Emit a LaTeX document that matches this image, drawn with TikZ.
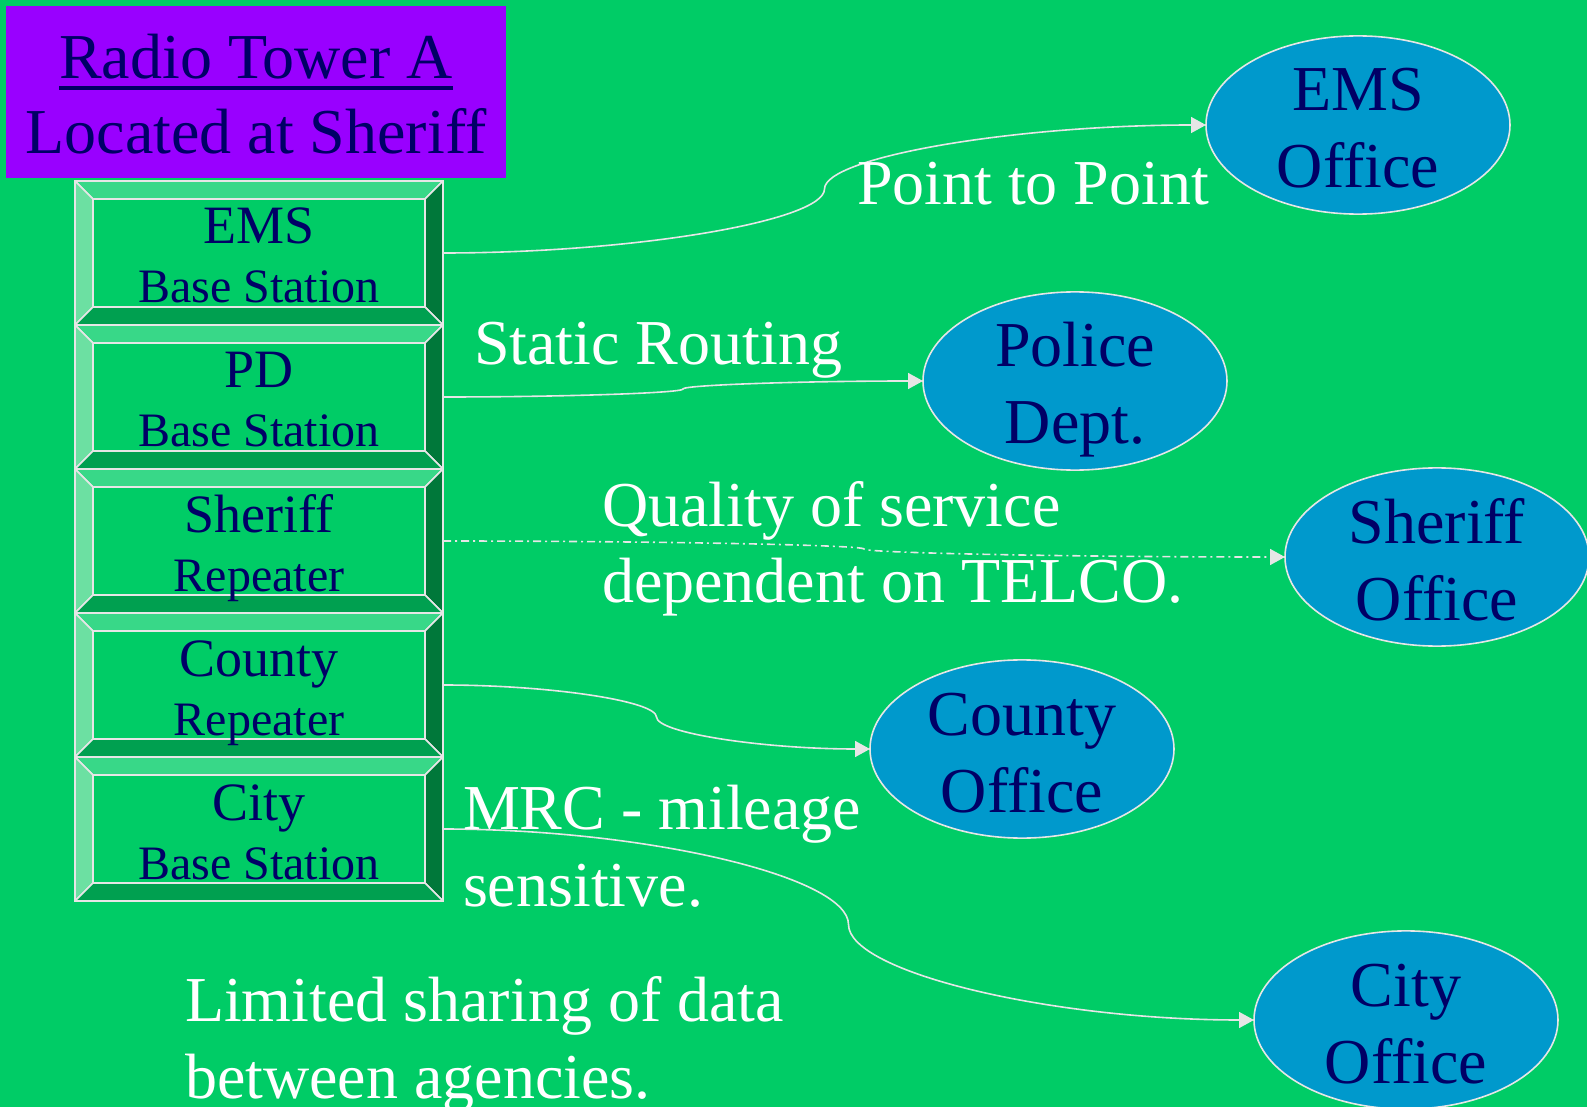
\documentclass[tikz,border=0pt]{standalone}
\usepackage{fontspec}
\setmainfont{Liberation Serif}
\usetikzlibrary{positioning, shapes.geometric, arrows.meta, calc}
\definecolor{Slide_Green}{HTML}{00CC66}
\definecolor{Slide_Purple}{HTML}{9900FF}
\definecolor{Slide_Blue}{HTML}{0099CC}
\definecolor{Slide_Navy}{HTML}{000066}
\definecolor{Slide_Grey}{HTML}{E6E6E6}
\definecolor{Bevel_Top}{HTML}{38D888}
\definecolor{Bevel_Left}{HTML}{6CE0A2}
\definecolor{Bevel_Right}{HTML}{00783A}
\definecolor{Bevel_Bottom}{HTML}{00A050}
% heavier underline than \underline gives
\newcommand\towerline[1]{\setbox0\hbox{#1}\rlap{\rule[-5.5pt]{\wd0}{1.8pt}}\box0}

\begin{document}
\begin{tikzpicture}[
  x=0.5pt, y=-0.5pt,
  every node/.style={inner sep=0pt, outer sep=0pt},
  bevel/.style={draw=Slide_Grey, line width=0.8pt},
  station/.style={draw=Slide_Grey, line width=0.8pt, minimum width=184pt, minimum height=72pt,
    text=Slide_Navy, align=center, font=\fontsize{24}{29.5}\selectfont, text height=50pt, text depth=0pt,
    path picture={
      \path (path picture bounding box.north west) coordinate (bnw)
            (path picture bounding box.north east) coordinate (bne)
            (path picture bounding box.south west) coordinate (bsw)
            (path picture bounding box.south east) coordinate (bse);
      \path[bevel, fill=Bevel_Top] (bnw) -- (bne) -- ([shift={(-9pt,-9pt)}]bne) -- ([shift={(9pt,-9pt)}]bnw) -- cycle;
      \path[bevel, fill=Bevel_Left] (bnw) -- ([shift={(9pt,-9pt)}]bnw) -- ([shift={(9pt,9pt)}]bsw) -- (bsw) -- cycle;
      \path[bevel, fill=Bevel_Right] (bne) -- (bse) -- ([shift={(-9pt,9pt)}]bse) -- ([shift={(-9pt,-9pt)}]bne) -- cycle;
      \path[bevel, fill=Bevel_Bottom] (bsw) -- (bse) -- ([shift={(-9pt,9pt)}]bse) -- ([shift={(9pt,9pt)}]bsw) -- cycle;
    }},
  office/.style={ellipse, draw=Slide_Grey, line width=0.8pt, fill=Slide_Blue, text=Slide_Navy,
    minimum width=152pt, minimum height=88pt, align=center, font=\fontsize{32}{38.5}\selectfont,
    text height=63pt, text depth=0pt},
  lbl/.style={text=white, align=left, anchor=south west, font=\fontsize{32}{38.5}\selectfont, text depth=0pt},
  arr/.style={-{Triangle[length=7.5pt, width=8pt]}, line width=0.8pt, Slide_Grey},
  qos/.style={arr, dash pattern=on 4pt off 2pt on 1pt off 2pt},
  sbend/.style={to path={let \p1=(\tikztostart), \p2=(\tikztotarget) in
    .. controls ({0.75*\x1+0.25*\x2},\y1) and ({0.5*\x1+0.5*\x2},{0.75*\y1+0.25*\y2})
    .. ({0.5*\x1+0.5*\x2},{0.5*\y1+0.5*\y2})
    .. controls ({0.5*\x1+0.5*\x2},{0.25*\y1+0.75*\y2}) and ({0.25*\x1+0.75*\x2},\y2)
    .. (\tikztotarget)}}
]
  \fill[Slide_Green] (0,0) rectangle (1587,1107);
  \useasboundingbox (0,0) rectangle (1587,1107);

  % Tower heading
  \node[fill=Slide_Purple, minimum width=250pt, minimum height=86pt, text=Slide_Navy, align=center,
        font=\fontsize{32}{37.5}\selectfont, text height=62pt, text depth=0pt] (tower) at (256,92)
        {\towerline{Radio Tower A}\\Located at Sheriff};

  % Left: stacked base stations
  \node[station] (ems) at (259,253) {{\fontsize{27}{29.5}\selectfont EMS}\\Base Station};
  \node[station, below=0pt of ems] (pd) {{\fontsize{27}{29.5}\selectfont PD}\\Base Station};
  \node[station, below=0pt of pd] (sheriff) {{\fontsize{27}{29.5}\selectfont Sheriff}\\Repeater};
  \node[station, below=0pt of sheriff] (county) {{\fontsize{27}{29.5}\selectfont County}\\Repeater};
  \node[station, below=0pt of county] (city) {{\fontsize{27}{29.5}\selectfont City}\\Base Station};

  % Right: agency offices
  \node[office] (emsoff) at (1358,125) {EMS\\Office};
  \node[office] (pdoff) at (1075,381) {Police\\Dept.};
  \node[office] (sheroff) at (1437,557) {Sheriff\\Office};
  \node[office] (cntoff) at (1022,749) {County\\Office};
  \node[office] (cityoff) at (1406,1020) {City\\Office};

  % Links
  \draw[arr] (ems.east) to[sbend] (emsoff.west);
  \draw[arr] (pd.east) to[sbend] (pdoff.west);
  \draw[qos] (sheriff.east) to[sbend] (sheroff.west);
  \draw[arr] (county.east) to[sbend] (cntoff.west);
  \draw[arr] (city.east) to[sbend] (cityoff.west);

  % Link notes
  \node[lbl] (ptp) at (857,205) {Point to Point};
  \node[lbl] (static) at (474,365) {Static Routing};
  \node[lbl] (telco) at (602,603) {Quality of service\\dependent on TELCO.};
  \node[lbl] (mrc) at (463,906) {MRC - mileage\\sensitive.};
  \node[lbl] (sharing) at (185,1098) {Limited sharing of data\\between agencies.};
\end{tikzpicture}
\end{document}
